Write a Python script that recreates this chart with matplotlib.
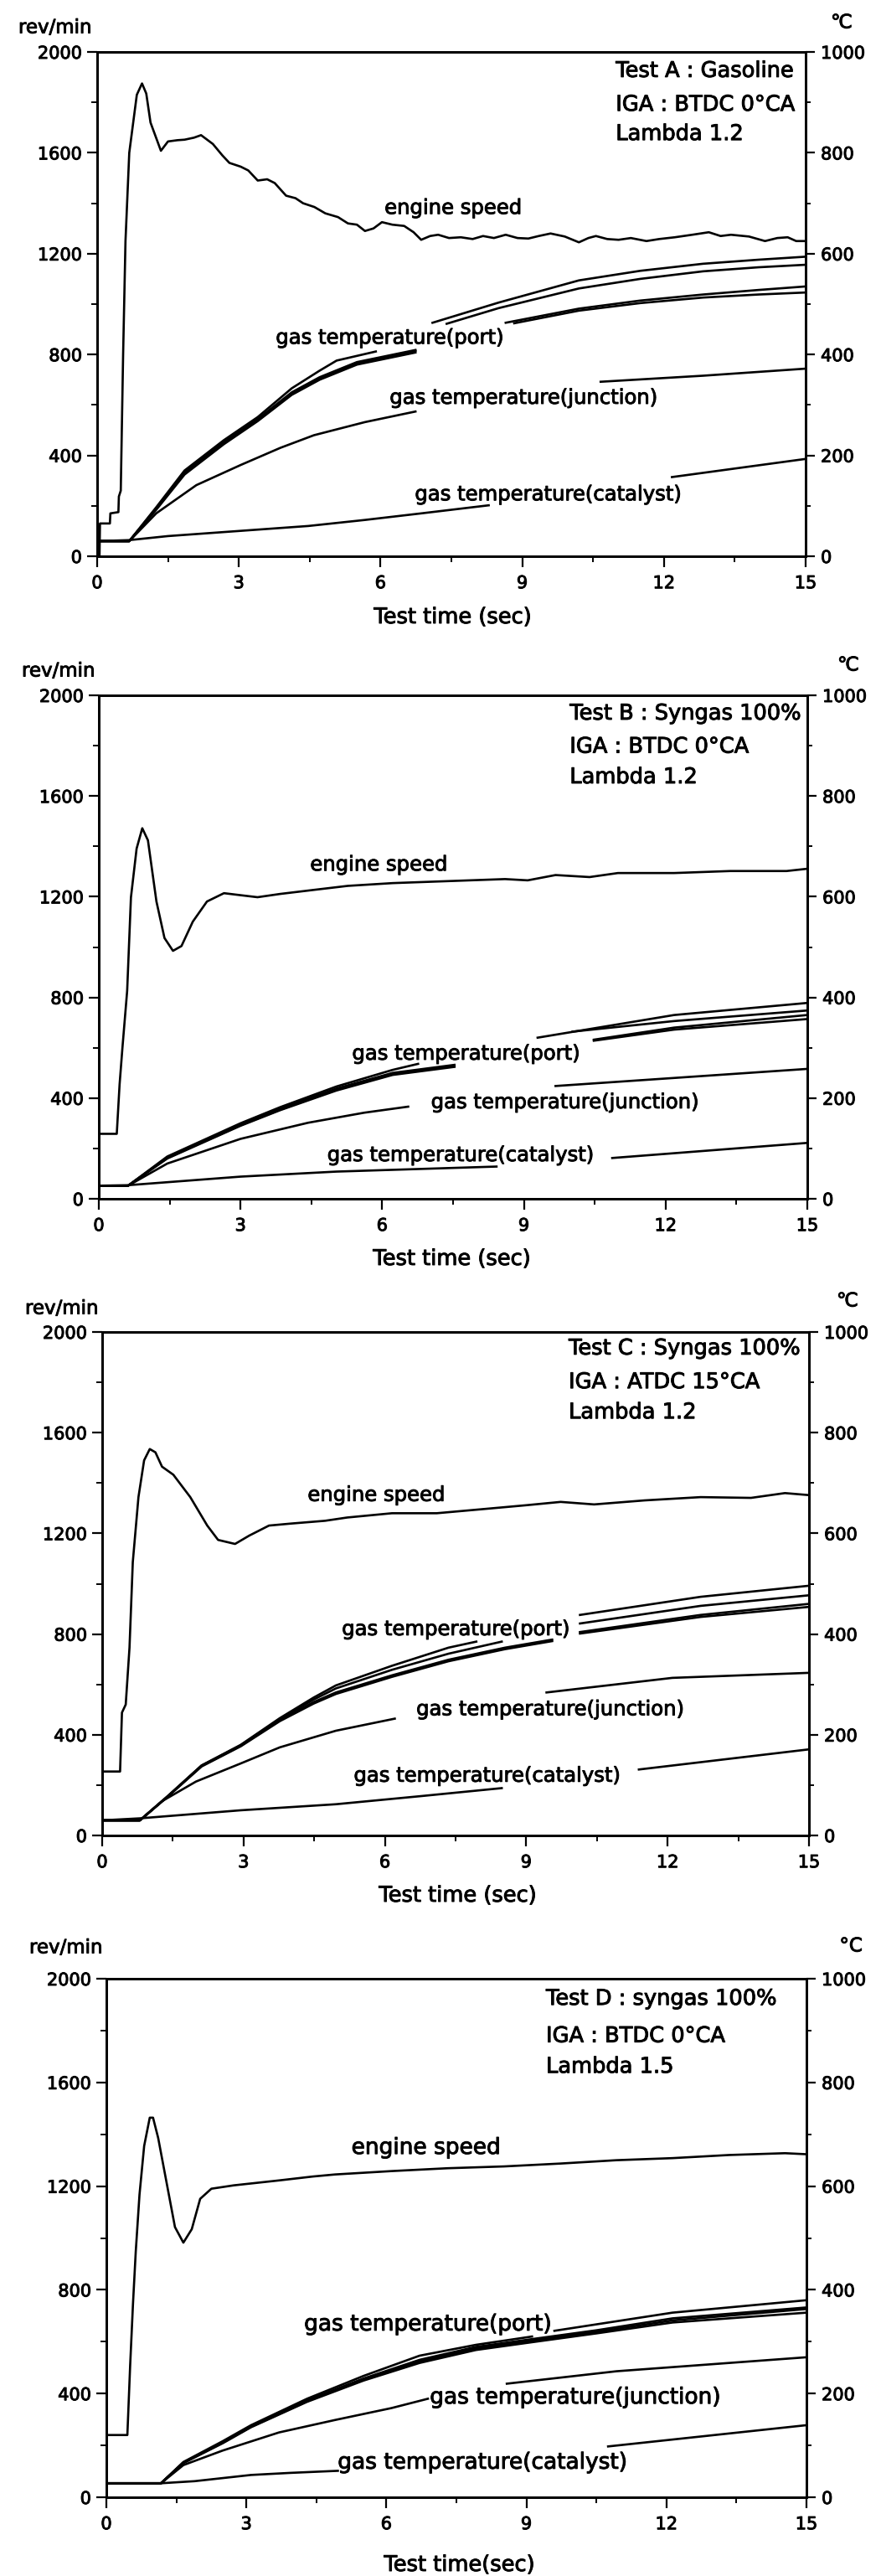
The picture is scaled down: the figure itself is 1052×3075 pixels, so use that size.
import numpy as np
import matplotlib
matplotlib.use("Agg")
import matplotlib.pyplot as plt
import matplotlib.patheffects as pe
from matplotlib.ticker import MultipleLocator

plt.rcParams['font.family'] = ['DejaVu Sans']
nan = np.nan

# ---------------- Panel A : Gasoline ----------------
A_speed_t = [0.05, 0.06, 0.27, 0.28, 0.45, 0.46, 0.50, 0.55, 0.60, 0.68, 0.84, 0.95, 1.04, 1.13, 1.35,
             1.50, 1.70, 1.85, 2.05, 2.20, 2.45, 2.65, 2.80, 3.04, 3.20, 3.40, 3.60, 3.76, 4.00, 4.20,
             4.36, 4.60, 4.83, 5.10, 5.31, 5.50, 5.67, 5.85, 6.03, 6.25, 6.50, 6.70, 6.86, 7.05, 7.22,
             7.45, 7.70, 7.95, 8.17, 8.40, 8.65, 8.90, 9.13, 9.35, 9.60, 9.90, 10.20, 10.40, 10.56, 10.80,
             11.04, 11.30, 11.63, 11.90, 12.23, 12.60, 12.95, 13.20, 13.42, 13.80, 14.14, 14.40, 14.62, 14.80, 15.00]
A_speed = [0, 130, 130, 170, 175, 237, 260, 800, 1250, 1600, 1830, 1875, 1835, 1720, 1608,
           1645, 1650, 1652, 1660, 1670, 1635, 1590, 1560, 1545, 1530, 1490, 1495, 1480, 1430, 1420,
           1400, 1385, 1360, 1345, 1320, 1315, 1290, 1300, 1325, 1315, 1310, 1285, 1255, 1270, 1275,
           1262, 1265, 1258, 1270, 1262, 1275, 1262, 1260, 1270, 1280, 1268, 1245, 1262, 1270, 1258,
           1255, 1262, 1250, 1258, 1265, 1275, 1285, 1270, 1275, 1268, 1250, 1262, 1265, 1250, 1250]
A_port1_t = [0, 0.68, 1.25, 1.85, 2.68, 3.4, 4.12, 4.71, 5.07, 5.9, nan, 7.1, 8.5, 10.2, 11.5, 12.83, 14, 15]
A_port1 = [30, 30, 97, 170, 230, 276, 333, 368, 388, 406, nan, 463, 503, 547, 566, 580, 588, 594]
A_port2_t = [0, 0.68, 1.25, 1.85, 2.68, 3.4, 4.12, 4.71, 5.5, 6.74, nan, 7.4, 8.5, 10.2, 11.5, 12.83, 14, 15]
A_port2 = [30, 30, 95, 166, 226, 272, 325, 355, 385, 409, nan, 461, 492, 531, 550, 565, 573, 578]
A_port3_t = [0, 0.68, 1.25, 1.85, 2.68, 3.4, 4.12, 4.71, 5.5, 6.74, nan, 8.65, 10.2, 11.5, 12.83, 14, 15]
A_port3 = [30, 30, 94, 164, 224, 270, 322, 352, 382, 407, nan, 463, 491, 507, 519, 528, 535]
A_port4_t = [0, 0.68, 1.25, 1.85, 2.68, 3.4, 4.12, 4.71, 5.5, 6.74, nan, 8.83, 10.2, 11.5, 12.83, 14, 15]
A_port4 = [30, 30, 92, 162, 222, 268, 320, 350, 380, 404, nan, 462, 487, 502, 513, 519, 523]
A_junc_t = [0, 0.68, 1.25, 2.1, 3.04, 3.88, 4.59, 5.67, 6.74, nan, 10.66, 12.83, 15]
A_junc = [30, 30, 85, 141, 181, 215, 240, 266, 287, nan, 346, 358, 372]
A_cat_t = [0, 0.68, 1.5, 3.28, 4.47, 5.67, 6.86, 8.29, nan, 12.17, 15]
A_cat = [30, 32, 40, 52, 60, 72, 85, 101, nan, 157, 193]
A_info = ["Test A : Gasoline", "IGA : BTDC 0°CA", "Lambda 1.2"]

# ---------------- Panel B : Syngas, BTDC 0 ----------------
B_speed_t = [0, 0.38, 0.44, 0.50, 0.60, 0.68, 0.80, 0.92, 1.04, 1.22, 1.39, 1.57, 1.75, 1.99, 2.29, 2.65,
             3.0, 3.36, 3.84, 4.55, 5.27, 6.22, 7.41, 8.6, 9.08, 9.67, 10.39, 10.99, 12.18, 13.37, 14.56, 15]
B_speed = [258, 258, 455, 600, 826, 1197, 1391, 1472, 1424, 1181, 1036, 985, 1004, 1101, 1181, 1214,
           1206, 1198, 1211, 1227, 1243, 1254, 1262, 1270, 1265, 1286, 1278, 1294, 1294, 1302, 1302, 1311]
B_port1_t = [0, 0.62, 1.45, 3.0, 3.84, 5.03, 6.22, 6.76, nan, 9.29, 12.18, 15]
B_port1 = [26, 26, 84, 150, 182, 223, 256, 268, nan, 320, 365, 389]
B_port2_t = [0, 0.62, 1.45, 3.0, 3.84, 5.03, 6.22, 7.53, nan, 10.03, 12.18, 15]
B_port2 = [26, 26, 82, 147, 179, 219, 250, 266, nan, 332, 353, 374]
B_port3_t = [0, 0.62, 1.45, 3.0, 3.84, 5.03, 6.22, 7.53, nan, 10.48, 12.18, 15]
B_port3 = [26, 26, 81, 146, 177, 217, 248, 264, nan, 316, 340, 365]
B_port4_t = [0, 0.62, 1.45, 3.0, 3.84, 5.03, 6.22, 7.53, nan, 10.48, 12.18, 15]
B_port4 = [26, 26, 80, 145, 176, 215, 246, 262, nan, 314, 336, 357]
B_junc_t = [0, 0.62, 1.45, 3.0, 4.43, 5.62, 6.55, nan, 9.67, 12.18, 15]
B_junc = [26, 26, 70, 119, 151, 171, 183, nan, 224, 240, 258]
B_cat_t = [0, 0.62, 3.0, 5.03, 8.42, nan, 10.87, 15]
B_cat = [26, 27, 44, 54, 64, nan, 81, 111]
B_info = ["Test B : Syngas 100%", "IGA : BTDC 0°CA", "Lambda 1.2"]

# ---------------- Panel C : Syngas, ATDC 15 ----------------
C_speed_t = [0, 0.38, 0.42, 0.50, 0.58, 0.65, 0.77, 0.89, 1.01, 1.13, 1.27, 1.51, 1.87, 2.23, 2.46, 2.82,
             3.12, 3.54, 4.01, 4.73, 5.2, 6.15, 7.1, 8.06, 9.01, 9.73, 10.44, 11.51, 12.7, 13.77, 14.49, 15]
C_speed = [254, 254, 488, 520, 746, 1086, 1344, 1490, 1535, 1522, 1465, 1433, 1344, 1231, 1174, 1158,
           1191, 1231, 1239, 1250, 1263, 1280, 1280, 1296, 1312, 1325, 1315, 1331, 1344, 1341, 1360, 1352]
C_port1_t = [0, 0.8, 1.39, 2.11, 2.94, 3.77, 4.49, 4.96, 6.15, 7.35, 7.94, nan, 10.14, 12.7, 15]
C_port1 = [30, 30, 78, 139, 180, 233, 274, 298, 337, 373, 385, nan, 438, 474, 496]
C_port2_t = [0, 0.8, 1.39, 2.11, 2.94, 3.77, 4.49, 4.96, 6.15, 7.35, 8.48, nan, 10.14, 12.7, 15]
C_port2 = [30, 30, 78, 139, 179, 231, 270, 292, 329, 361, 385, nan, 421, 456, 477]
C_port3_t = [0, 0.8, 1.39, 2.11, 2.94, 3.77, 4.49, 4.96, 6.15, 7.35, 8.55, 9.55, nan, 10.14, 12.7, 15]
C_port3 = [30, 30, 77, 138, 178, 229, 265, 284, 318, 349, 373, 389, nan, 404, 438, 460]
C_port4_t = [0, 0.8, 1.39, 2.11, 2.94, 3.77, 4.49, 4.96, 6.15, 7.35, 8.55, 9.55, nan, 10.14, 12.7, 15]
C_port4 = [30, 30, 77, 137, 177, 227, 262, 281, 315, 346, 370, 386, nan, 401, 434, 454]
C_junc_t = [0, 0.8, 1.27, 1.99, 2.94, 3.77, 4.96, 6.21, nan, 9.43, 12.1, 15]
C_junc = [30, 30, 68, 107, 143, 175, 208, 232, nan, 284, 313, 323]
C_cat_t = [0, 0.8, 2.94, 4.96, 6.75, 8.48, nan, 11.39, 15]
C_cat = [30, 34, 50, 62, 78, 94, nan, 131, 171]
C_info = ["Test C : Syngas 100%", "IGA : ATDC 15°CA", "Lambda 1.2"]

# ---------------- Panel D : Syngas, Lambda 1.5 ----------------
D_speed_t = [0, 0.45, 0.51, 0.57, 0.63, 0.71, 0.81, 0.93, 1.0, 1.11, 1.29, 1.47, 1.65, 1.83, 2.01,
             2.25, 2.73, 3.7, 4.42, 4.9, 6.11, 7.31, 8.52, 9.72, 10.93, 12.13, 13.34, 14.54, 15]
D_speed = [240, 240, 509, 744, 948, 1167, 1355, 1464, 1464, 1386, 1214, 1042, 982, 1034, 1151,
           1190, 1203, 1222, 1237, 1245, 1258, 1269, 1276, 1287, 1300, 1308, 1320, 1327, 1323]
D_port1_t = [0, 1.17, 1.65, 2.49, 3.1, 4.3, 5.51, 6.71, 7.92, 9.12, nan, 9.6, 12.13, 15]
D_port1 = [27, 27, 68, 108, 139, 190, 234, 273, 294, 310, nan, 321, 356, 380]
D_port2_t = [0, 1.17, 1.65, 2.49, 3.1, 4.3, 5.51, 6.71, 7.92, 9.12, 10.5, 12.13, 15]
D_port2 = [27, 27, 67, 106, 137, 187, 229, 265, 290, 305, 322, 345, 366]
D_port3_t = [0, 1.17, 1.65, 2.49, 3.1, 4.3, 5.51, 6.71, 7.92, 9.12, 10.5, 12.13, 15]
D_port3 = [27, 27, 66, 105, 136, 185, 227, 262, 287, 302, 319, 341, 363]
D_port4_t = [0, 1.17, 1.65, 2.49, 3.1, 4.3, 5.51, 6.71, 7.92, 9.12, 10.5, 12.13, 15]
D_port4 = [27, 27, 66, 104, 135, 184, 225, 259, 284, 299, 316, 337, 356]
D_junc_t = [0, 1.17, 1.65, 2.49, 3.7, 4.9, 6.11, 6.89, nan, 8.58, 10.93, 15]
D_junc = [27, 27, 62, 90, 125, 149, 172, 190, nan, 219, 243, 270]
D_cat_t = [0, 1.17, 1.89, 3.1, 3.94, 4.96, nan, 10.75, 15]
D_cat = [27, 27, 31, 43, 47, 51, nan, 98, 139]
D_info = ["Test D : syngas 100%", "IGA : BTDC 0°CA", "Lambda 1.5"]

# tick values
x_ticks = [0, 3, 6, 9, 12, 15]
rpm_ticks = [0, 400, 800, 1200, 1600, 2000]
temp_ticks = [0, 200, 400, 600, 800, 1000]

curve_labels = ["engine speed", "gas temperature(port)",
                "gas temperature(junction)", "gas temperature(catalyst)"]

W, H = 1052, 3075
fig = plt.figure(figsize=(W / 100, H / 100), dpi=100)
fig.patch.set_facecolor('white')

ink = [pe.withStroke(linewidth=0.7, foreground='black')]

panels = [
    dict(box=(116, 962, 62, 664),
         speed=(A_speed_t, A_speed),
         temps=[(A_port1_t, A_port1), (A_port2_t, A_port2), (A_port3_t, A_port3), (A_port4_t, A_port4),
                (A_junc_t, A_junc), (A_cat_t, A_cat)],
         info=A_info, info_pos=(10.98, [1924, 1790, 1674]),
         lab_pos=[(7.54, 1381), (6.2, 866), (9.03, 628), (9.55, 245)], lab_fs=17.5,
         revmin=(22, 33), degc=("℃", 1005, 27), xlabel=("Test time (sec)", 541, 737)),
    dict(box=(118, 964, 830, 1431),
         speed=(B_speed_t, B_speed),
         temps=[(B_port1_t, B_port1), (B_port2_t, B_port2), (B_port3_t, B_port3), (B_port4_t, B_port4),
                (B_junc_t, B_junc), (B_cat_t, B_cat)],
         info=B_info, info_pos=(9.97, [1927, 1795, 1674]),
         lab_pos=[(5.93, 1327), (7.78, 576), (9.87, 383), (7.66, 173)], lab_fs=17.5,
         revmin=(26, 801), degc=("℃", 1013, 794), xlabel=("Test time (sec)", 540, 1503)),
    dict(box=(122, 966, 1590, 2191),
         speed=(C_speed_t, C_speed),
         temps=[(C_port1_t, C_port1), (C_port2_t, C_port2), (C_port3_t, C_port3), (C_port4_t, C_port4),
                (C_junc_t, C_junc), (C_cat_t, C_cat)],
         info=C_info, info_pos=(9.9, [1934, 1800, 1680]),
         lab_pos=[(5.82, 1352), (7.51, 819), (9.51, 501), (8.17, 237)], lab_fs=17.5,
         revmin=(30, 1562), degc=("℃", 1012, 1553), xlabel=("Test time (sec)", 547, 2263)),
    dict(box=(127, 963, 2362, 2981),
         speed=(D_speed_t, D_speed),
         temps=[(D_port1_t, D_port1), (D_port2_t, D_port2), (D_port3_t, D_port3), (D_port4_t, D_port4),
                (D_junc_t, D_junc), (D_cat_t, D_cat)],
         info=D_info, info_pos=(9.42, [1922, 1778, 1660]),
         lab_pos=[(6.85, 1347), (6.89, 666), (10.05, 384), (8.06, 133)], lab_fs=19,
         revmin=(35, 2325), degc=("°C", 1016, 2323), xlabel=("Test time(sec)", 549, 3062)),
]

LW = 1.9
for p in panels:
    l, r, t, b = p['box']
    ax = fig.add_axes([l / W, 1 - b / H, (r - l) / W, (b - t) / H])
    ax.set_xlim(0, 15)
    ax.set_ylim(0, 2000)
    ax2 = ax.twinx()
    ax2.set_ylim(0, 1000)

    st, sv = p['speed']
    ax.plot(st, sv, color='black', lw=LW, solid_joinstyle='round')
    for tt, vv in p['temps']:
        ax2.plot(tt, vv, color='black', lw=LW, solid_joinstyle='round')

    ax.set_xticks(x_ticks)
    ax.xaxis.set_minor_locator(MultipleLocator(1.5))
    ax.set_yticks(rpm_ticks)
    ax.yaxis.set_minor_locator(MultipleLocator(200))
    ax2.set_yticks(temp_ticks)
    ax2.yaxis.set_minor_locator(MultipleLocator(100))

    for a in (ax, ax2):
        for s in a.spines.values():
            s.set_linewidth(2.0)
    ax.tick_params(axis='both', which='major', direction='out', length=9, width=1.6,
                   labelsize=15, pad=4)
    ax.tick_params(axis='both', which='minor', direction='out', length=5, width=1.4)
    ax.tick_params(axis='x', which='major', pad=7)
    ax2.tick_params(axis='y', which='major', direction='out', length=8, width=1.6,
                    labelsize=15, pad=5)
    ax2.tick_params(axis='y', which='minor', direction='out', length=4, width=1.4)
    for lab in ax.get_xticklabels() + ax.get_yticklabels() + ax2.get_yticklabels():
        lab.set_path_effects(ink)

    for (lx, ly), s in zip(p['lab_pos'], curve_labels):
        ax.text(lx, ly, s, ha='center', va='center', fontsize=p['lab_fs'], path_effects=ink)

    ix, iys = p['info_pos']
    for s, iy in zip(p['info'], iys):
        ax.text(ix, iy, s, ha='left', va='center', fontsize=18.5, path_effects=ink)

    rx, ry = p['revmin']
    fig.text(rx / W, 1 - ry / H, "rev/min", ha='left', va='center', fontsize=16.5, path_effects=ink)
    ds, dx, dy = p['degc']
    fig.text(dx / W, 1 - dy / H, ds, ha='center', va='center', fontsize=16.5, path_effects=ink)
    xs, xx, xy = p['xlabel']
    fig.text(xx / W, 1 - xy / H, xs, ha='center', va='center', fontsize=18.5, path_effects=ink)

fig.savefig("out.png", dpi=100, facecolor='white')
